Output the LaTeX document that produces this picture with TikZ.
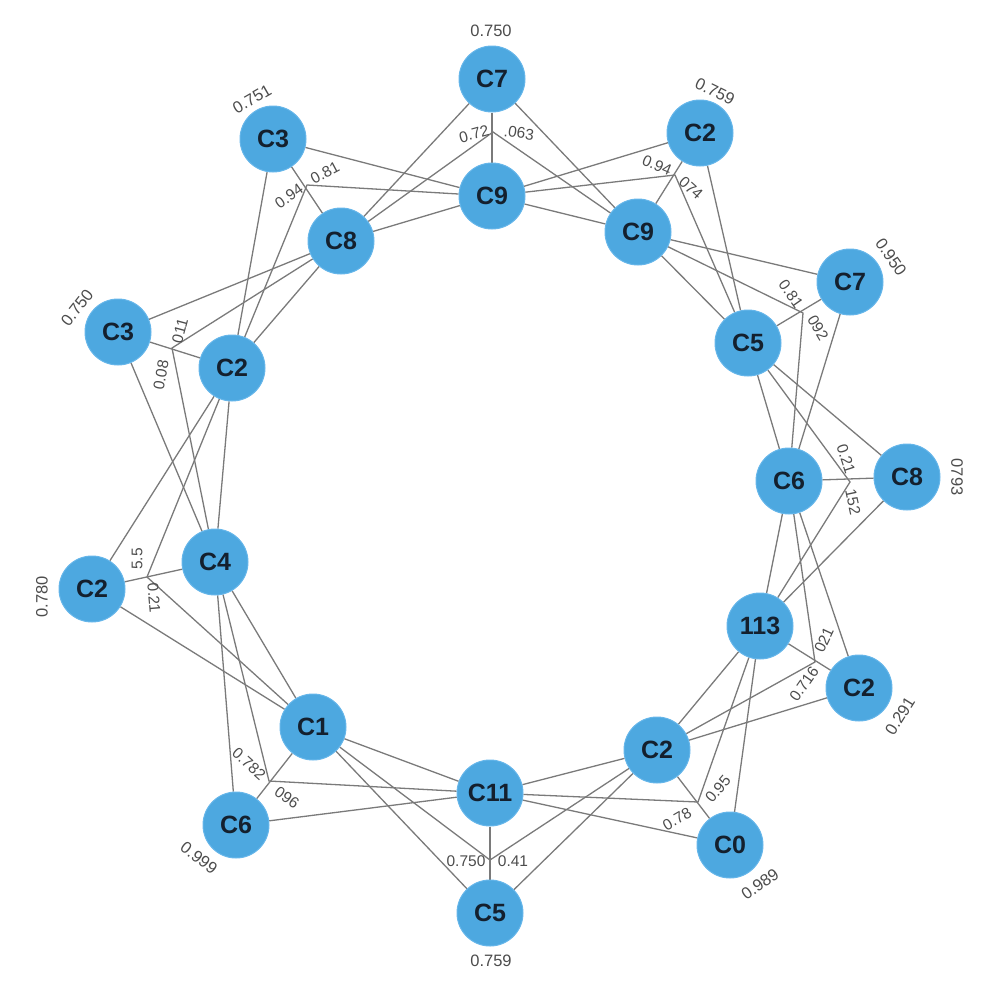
\documentclass[tikz,border=0pt]{standalone}
\usepackage{fontspec}
\setmainfont{Liberation Sans}
\pgfdeclarelayer{bg}
\pgfsetlayers{bg,main}
\definecolor{nodeblue}{HTML}{4DA8E0}
\definecolor{nodeedge}{HTML}{66B6EA}
\definecolor{nodetext}{HTML}{14202E}
\definecolor{edgegray}{HTML}{7A7A7A}
\definecolor{lblgray}{HTML}{4C4C4C}
\begin{document}
\begin{tikzpicture}[x=1pt,y=-1pt,
  vnode/.style={circle,fill=nodeblue,draw=nodeedge,line width=1pt,minimum size=66pt,inner sep=0pt,font=\bfseries\fontsize{25}{25}\selectfont,text=nodetext},
  conn/.style={draw=edgegray,line width=1.3pt},
  elbl/.style={font=\fontsize{15.5}{15.5}\selectfont,text=lblgray,inner sep=0pt},
  olbl/.style={font=\fontsize{16.5}{16.5}\selectfont,text=lblgray,inner sep=0pt}]
\useasboundingbox (0,0) rectangle (988,988);
% outer ring
\node[vnode] (C7t) at (492,79) {C7};
\node[vnode] (C2tr) at (700,133) {C2};
\node[vnode] (C7r) at (850,282) {C7};
\node[vnode] (C8r) at (907,477) {C8};
\node[vnode] (C2rr) at (859,688) {C2};
\node[vnode] (C0) at (730,845) {C0};
\node[vnode] (C5b) at (490,913) {C5};
\node[vnode] (C6l) at (236,825) {C6};
\node[vnode] (C2l) at (92,589) {C2};
\node[vnode] (C3l) at (118,332) {C3};
\node[vnode] (C3tl) at (273,139) {C3};
% inner ring
\node[vnode] (C9t) at (492,196) {C9};
\node[vnode] (C9r) at (638,232) {C9};
\node[vnode] (C5r) at (748,343) {C5};
\node[vnode] (C6r) at (789,481) {C6};
\node[vnode] (N113) at (760,626) {113};
\node[vnode] (C2br) at (657,750) {C2};
\node[vnode] (C11) at (490,793) {C11};
\node[vnode] (C1) at (313,727) {C1};
\node[vnode] (C4) at (215,562) {C4};
\node[vnode] (C2i) at (232,368) {C2};
\node[vnode] (C8) at (341,241) {C8};
% bend points
\coordinate (p1) at (493,132);
\coordinate (p2) at (307,185);
\coordinate (p3) at (172,348);
\coordinate (p4) at (147,577);
\coordinate (p5) at (269,781);
\coordinate (p6) at (490,860);
\coordinate (p7) at (698,802);
\coordinate (p8) at (815,662);
\coordinate (p9) at (850,482);
\coordinate (p10) at (803,313);
\coordinate (p11) at (675,175);
\begin{pgfonlayer}{bg}
\draw[conn] (C7t) -- (C9t);
\draw[conn] (C7t) -- (C8);
\draw[conn] (C7t) -- (C9r);
\draw[conn] (C8) -- (p1) -- (C9r);
\draw[conn] (C3tl) -- (C9t);
\draw[conn] (C3tl) -- (C8);
\draw[conn] (C3tl) -- (C2i);
\draw[conn] (C2i) -- (p2) -- (C9t);
\draw[conn] (C8) -- (C9t);
\draw[conn] (C3l) -- (C8);
\draw[conn] (C8) -- (p3) -- (C4);
\draw[conn] (C8) -- (C2i);
\draw[conn] (C3l) -- (C2i);
\draw[conn] (C3l) -- (C4);
\draw[conn] (C2i) -- (C4);
\draw[conn] (C2i) -- (C2l);
\draw[conn] (C2i) -- (p4) -- (C1);
\draw[conn] (C2l) -- (C4);
\draw[conn] (C2l) -- (C1);
\draw[conn] (C4) -- (C6l);
\draw[conn] (C4) -- (p5) -- (C11);
\draw[conn] (C4) -- (C1);
\draw[conn] (C1) -- (C6l);
\draw[conn] (C1) -- (C11);
\draw[conn] (C1) -- (C5b);
\draw[conn] (C1) -- (p6) -- (C2br);
\draw[conn] (C6l) -- (C11);
\draw[conn] (C11) -- (C5b);
\draw[conn] (C11) -- (C2br);
\draw[conn] (C11) -- (p7) -- (N113);
\draw[conn] (C11) -- (C0);
\draw[conn] (C5b) -- (C2br);
\draw[conn] (C2br) -- (N113);
\draw[conn] (C2br) -- (C2rr);
\draw[conn] (C2br) -- (p8) -- (C6r);
\draw[conn] (C2br) -- (C0);
\draw[conn] (N113) -- (C0);
\draw[conn] (N113) -- (C2rr);
\draw[conn] (N113) -- (C6r);
\draw[conn] (N113) -- (p9) -- (C5r);
\draw[conn] (N113) -- (C8r);
\draw[conn] (C2rr) -- (C6r);
\draw[conn] (C5r) -- (C6r);
\draw[conn] (C5r) -- (C8r);
\draw[conn] (C6r) -- (C8r);
\draw[conn] (C6r) -- (p10) -- (C9r);
\draw[conn] (C6r) -- (C7r);
\draw[conn] (C5r) -- (C7r);
\draw[conn] (C9r) -- (C7r);
\draw[conn] (C9r) -- (C5r);
\draw[conn] (C9r) -- (C2tr);
\draw[conn] (C2tr) -- (C5r);
\draw[conn] (C9t) -- (p11) -- (C5r);
\draw[conn] (C9t) -- (C2tr);
\draw[conn] (C9t) -- (C9r);
\end{pgfonlayer}
% outer labels
\node[olbl] (l7t) at (491,31) {0.750};
\node[olbl,rotate=-26] (l2tr) at (715,91) {0.759};
\node[olbl,rotate=-55] (l7r) at (891,257) {0.950};
\node[olbl,rotate=-90] (l8r) at (957,477) {0793};
\node[olbl,rotate=58] (l2rr) at (900,716) {0.291};
\node[olbl,rotate=35] (l0) at (760,884) {0.989};
\node[olbl] (l5b) at (491,961) {0.759};
\node[olbl,rotate=-38] (l6l) at (199,858) {0.999};
\node[olbl,rotate=90] (l2l) at (42,597) {0.780};
\node[olbl,rotate=52] (l3l) at (77,308) {0.750};
\node[olbl,rotate=30] (l3tl) at (252,99) {0.751};
% edge labels
\node[elbl,rotate=15] (e1a) at (474,134) {0.72};
\node[elbl,rotate=-8] (e1b) at (519,133) {.063};
\node[elbl,rotate=35] (e2a) at (289,196) {0.94};
\node[elbl,rotate=28] (e2b) at (325,173) {0.81};
\node[elbl,rotate=75] (e3a) at (180,331) {011};
\node[elbl,rotate=80] (e3b) at (161,375) {0.08};
\node[elbl,rotate=90] (e4a) at (137,559) {5.5};
\node[elbl,rotate=-85] (e4b) at (154,598) {0.21};
\node[elbl,rotate=-42] (e5a) at (249,764) {0.782};
\node[elbl,rotate=-35] (e5b) at (287,798) {096};
\node[elbl] (e6a) at (466,861) {0.750};
\node[elbl] (e6b) at (513,861) {0.41};
\node[elbl,rotate=30] (e7a) at (677,819) {0.78};
\node[elbl,rotate=50] (e7b) at (718,789) {0.95};
\node[elbl,rotate=55] (e8a) at (804,684) {0.716};
\node[elbl,rotate=65] (e8b) at (824,640) {021};
\node[elbl,rotate=-72] (e9a) at (846,459) {0.21};
\node[elbl,rotate=-78] (e9b) at (853,502) {152};
\node[elbl,rotate=-55] (e10a) at (791,294) {0.81};
\node[elbl,rotate=-60] (e10b) at (818,328) {092};
\node[elbl,rotate=-23] (e11a) at (657,165) {0.94};
\node[elbl,rotate=-42] (e11b) at (691,188) {074};
\end{tikzpicture}
\end{document}
